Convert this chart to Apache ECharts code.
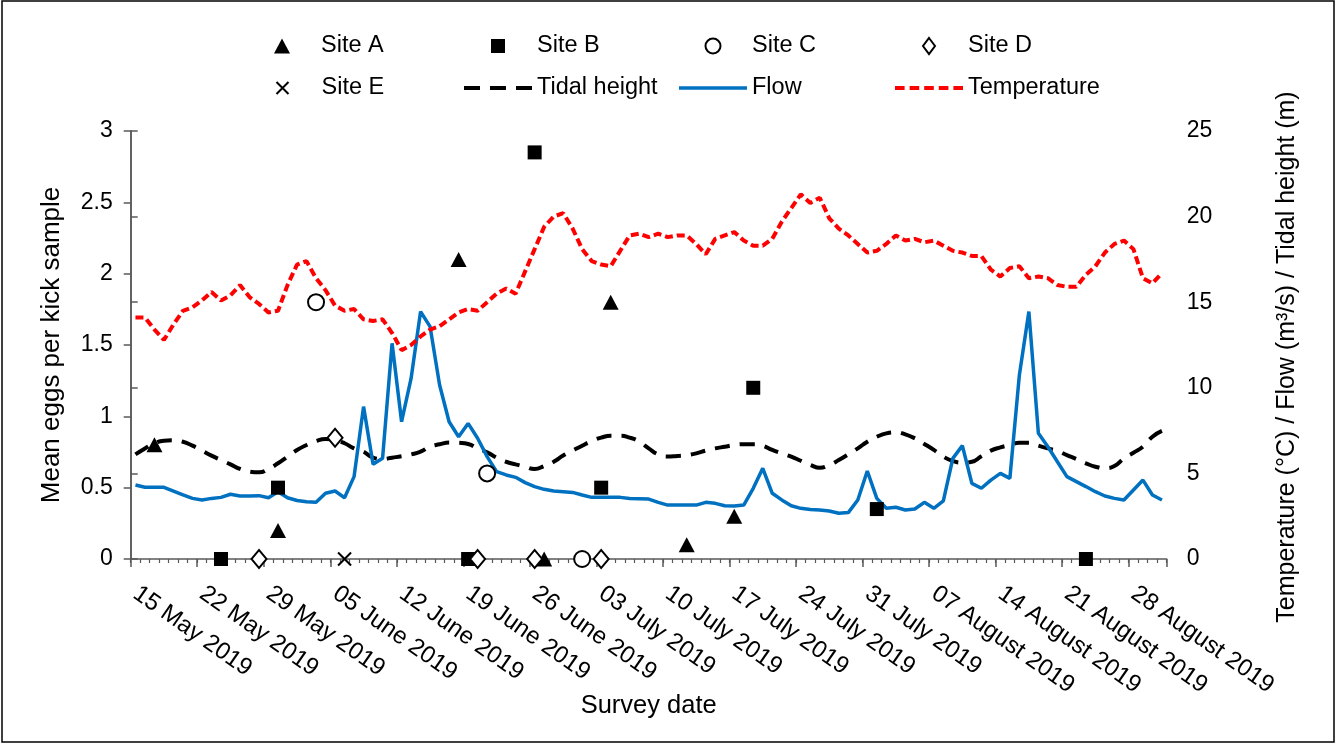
<!DOCTYPE html>
<html>
<head>
<meta charset="utf-8">
<script src="https://cdn.jsdelivr.net/npm/echarts@6/dist/echarts.min.js"></script>
<style>
html,body{margin:0;padding:0;background:#fff;}
#chart{width:1338px;height:745px;}
</style>
</head>
<body>
<div id="chart"></div>
<script>
// ---- data (x = day index from 15 May 2019, one value per day) ----
const tickLabels = ['15 May 2019','22 May 2019','29 May 2019','05 June 2019','12 June 2019','19 June 2019','26 June 2019','03 July 2019','10 July 2019','17 July 2019','24 July 2019','31 July 2019','07 August 2019','14 August 2019','21 August 2019','28 August 2019'];

const temperature = [14.1,14.1,13.4,12.8,13.7,14.5,14.7,15.1,15.6,15.1,15.4,16.0,15.3,14.9,14.4,14.5,16.0,17.2,17.4,16.4,
15.7,14.8,14.5,14.6,14.0,13.9,14.0,13.2,12.2,12.5,13.0,13.4,13.6,14.0,14.4,14.6,14.5,15.0,15.5,15.8,
15.5,16.8,18.1,19.4,20.0,20.2,19.3,18.1,17.4,17.2,17.1,18.0,18.9,19.0,18.8,19.0,18.8,18.9,18.9,18.4,
17.8,18.7,18.9,19.1,18.6,18.3,18.3,18.7,19.7,20.5,21.3,20.8,21.1,19.9,19.3,18.9,18.4,17.9,18.0,18.4,
18.9,18.6,18.7,18.5,18.6,18.3,18.0,17.9,17.7,17.7,16.9,16.5,17.0,17.1,16.4,16.5,16.4,16.0,15.9,15.9,
16.6,17.1,17.9,18.4,18.6,18.1,16.4,16.1,16.7];

const flow = [4.32,4.19,4.19,4.19,3.97,3.74,3.54,3.45,3.54,3.60,3.78,3.68,3.68,3.70,3.58,3.93,3.58,3.42,3.35,3.31,
3.84,3.97,3.58,4.81,8.90,5.53,5.88,12.6,8.02,10.55,14.45,13.57,10.16,8.02,7.14,7.92,7.05,5.98,5.10,4.91,
4.77,4.46,4.23,4.07,3.97,3.93,3.89,3.74,3.60,3.60,3.60,3.60,3.54,3.52,3.50,3.31,3.15,3.15,3.15,3.15,
3.31,3.25,3.11,3.09,3.15,4.13,5.30,3.84,3.45,3.11,2.96,2.89,2.86,2.80,2.67,2.71,3.45,5.14,3.54,2.96,
3.02,2.86,2.92,3.31,2.96,3.39,5.88,6.62,4.42,4.13,4.61,5.00,4.71,10.75,14.45,7.34,6.56,5.68,4.81,4.52,
4.23,3.93,3.68,3.54,3.45,4.03,4.61,3.74,3.45];

const tidalHeight = [6.11,6.46,6.76,6.91,6.93,6.85,6.62,6.33,6.04,5.78,5.53,5.26,5.10,5.06,5.26,5.59,5.98,6.37,6.66,6.89,
7.01,6.95,6.76,6.46,6.27,5.92,5.84,5.92,6.00,6.11,6.27,6.56,6.70,6.81,6.79,6.72,6.46,6.23,5.92,5.68,
5.53,5.39,5.26,5.43,5.68,6.04,6.33,6.62,6.89,7.09,7.20,7.20,7.09,6.86,6.46,6.11,5.98,6.02,6.07,6.17,
6.33,6.46,6.56,6.66,6.70,6.70,6.62,6.37,6.17,5.98,5.74,5.50,5.33,5.49,5.78,6.11,6.46,6.85,7.14,7.34,
7.40,7.28,7.05,6.72,6.37,5.98,5.72,5.63,5.68,6.00,6.33,6.52,6.66,6.79,6.79,6.62,6.46,6.31,6.07,5.84,
5.59,5.39,5.30,5.43,5.88,6.21,6.56,7.14,7.48];

// survey points: [day index, mean eggs per kick sample]
const siteA = [[2,0.8],[15,0.2],[34,2.1],[43,0],[50,1.8],[58,0.1],[63,0.3]];
const siteB = [[9,0],[15,0.5],[35,0],[42,2.85],[49,0.5],[65,1.2],[78,0.35],[100,0]];
const siteC = [[19,1.8],[37,0.6],[47,0]];
const siteD = [[13,0],[21,0.85],[36,0],[42,0],[49,0]];
const siteE = [[22,0]];

const F = '"Liberation Sans", Arial, sans-serif';
const AX = '#595959';
const daily = arr => arr.map((v, i) => [i + 0.5, v]);
const pts = arr => arr.map(p => [p[0] + 0.5, p[1]]);

const ICON = {
  tri: 'path://M8,0L16,15L0,15Z',
  sq: 'path://M0,0H14V14H0Z',
  circ: 'path://M7.5,0A7.5,7.5,0,1,1,7.5,15A7.5,7.5,0,1,1,7.5,0Z',
  dia: 'path://M6,0L12,8L6,16L0,8Z',
  x: 'path://M0,0L10,10M10,0L0,10',
  tide: 'path://M0,0H16V4H0Z M26,0H42V4H26Z M52,0H68V4H52Z',
  flow: 'path://M0,0H68V3.5H0Z',
  temp: 'path://M0,0H9.6V4H0Z M14.6,0H24.2V4H14.6Z M29.2,0H38.8V4H29.2Z M43.8,0H53.4V4H43.8Z M58.4,0H68V4H58.4Z'
};

const chart = echarts.init(document.getElementById('chart'), null, {renderer: 'canvas'});

function legendAt(name, icon, left, top, h) {
  return {
    data: [{name: name, icon: icon}], left: left, top: top, padding: 0, itemGap: 0,
    itemWidth: 68, itemHeight: h, selectedMode: false, symbolKeepAspect: true,
    textStyle: {fontSize: 23.5, color: '#000', fontFamily: F, lineHeight: 26}
  };
}

const option = {
  animation: false,
  textStyle: {fontFamily: F},
  graphic: [{type: 'rect', shape: {x: 2, y: 1, width: 1332, height: 741},
             style: {fill: 'none', stroke: '#000', lineWidth: 1.5}, silent: true}],
  legend: [
    legendAt('Site A', ICON.tri, 274, 33, 15),
    legendAt('Site B', ICON.sq, 491, 33, 14),
    legendAt('Site C', ICON.circ, 704.5, 33, 15),
    legendAt('Site D', ICON.dia, 922, 33, 16),
    legendAt('Site E', ICON.x, 274, 75, 12),
    legendAt('Tidal height', ICON.tide, 464, 75, 15),
    legendAt('Flow', ICON.flow, 679, 75, 15),
    legendAt('Temperature', ICON.temp, 895, 75, 15)
  ],
  grid: {left: 130.7, right: 171.3, top: 131, bottom: 186, containLabel: false, outerBoundsMode: 'none'},
  xAxis: [{
    type: 'value', min: 0, max: 109, interval: 7,
    axisLine: {show: true, onZero: false, lineStyle: {color: AX, width: 1.5}},
    axisTick: {show: true, length: 8, lineStyle: {color: AX, width: 1.5}},
    splitLine: {show: false},
    axisLabel: {rotate: -35, margin: 29, fontSize: 24, color: '#000', fontFamily: F, padding: [0, 0, 0, 6],
      formatter: v => (v % 7 === 0 && tickLabels[v / 7]) ? tickLabels[v / 7] : ''},
    name: 'Survey date', nameLocation: 'middle', nameGap: 134, nameMoveOverlap: false,
    nameTextStyle: {fontSize: 25.5, color: '#000', fontFamily: F}
  }, {
    type: 'value', min: 0, max: 109, interval: 1, position: 'bottom',
    axisLine: {show: false, onZero: false},
    axisTick: {show: true, length: 4, lineStyle: {color: AX, width: 1.2}},
    axisLabel: {show: false}, splitLine: {show: false}
  }],
  yAxis: [{
    type: 'value', min: 0, max: 3, interval: 0.5, position: 'left',
    axisLine: {show: true, lineStyle: {color: AX, width: 1.5}},
    axisTick: {show: true, length: 7, lineStyle: {color: AX, width: 1.5}},
    splitLine: {show: false},
    axisLabel: {margin: 18, fontSize: 23, color: '#000', fontFamily: F},
    name: 'Mean eggs per kick sample', nameLocation: 'middle', nameRotate: 90, nameGap: 66, nameMoveOverlap: false,
    nameTextStyle: {fontSize: 26, color: '#000', fontFamily: F}
  }, {
    type: 'value', min: 0, max: 25, interval: 5, position: 'right',
    axisLine: {show: true, lineStyle: {color: AX, width: 1.5}},
    axisTick: {show: true, length: 7, lineStyle: {color: AX, width: 1.5}},
    splitLine: {show: false},
    axisLabel: {margin: 20, fontSize: 23, color: '#000', fontFamily: F},
    name: 'Temperature (\u00B0C) / Flow (m\u00B3/s) / Tidal height (m)', nameLocation: 'middle', nameRotate: 90, nameGap: 108, nameMoveOverlap: false,
    nameTextStyle: {fontSize: 25, color: '#000', fontFamily: F, padding: [0, 24, 0, 0]}
  }],
  series: [
    {name: 'Tidal height', type: 'line', yAxisIndex: 1, data: daily(tidalHeight), smooth: true, symbol: 'none',
     lineStyle: {color: '#000', width: 4, type: [15, 10]}, itemStyle: {color: '#000'}, z: 2, silent: true},
    {name: 'Flow', type: 'line', yAxisIndex: 1, data: daily(flow), symbol: 'none',
     lineStyle: {color: '#0070C0', width: 3.5}, itemStyle: {color: '#0070C0'}, z: 3, silent: true},
    {name: 'Temperature', type: 'line', yAxisIndex: 1, data: daily(temperature), symbol: 'none',
     lineStyle: {color: '#FF0000', width: 4, type: [8, 4]}, itemStyle: {color: '#FF0000'}, z: 3, silent: true},
    {name: 'Site A', type: 'scatter', data: pts(siteA), symbol: 'triangle', symbolSize: [16, 15],
     itemStyle: {color: '#000', opacity: 1}, z: 5, silent: true},
    {name: 'Site B', type: 'scatter', data: pts(siteB), symbol: 'rect', symbolSize: 14,
     itemStyle: {color: '#000', opacity: 1}, z: 5, silent: true},
    {name: 'Site C', type: 'scatter', data: pts(siteC), symbol: 'circle', symbolSize: 16,
     itemStyle: {color: '#fff', borderColor: '#000', borderWidth: 2, opacity: 1}, z: 5, silent: true},
    {name: 'Site D', type: 'scatter', data: pts(siteD), symbol: 'diamond', symbolSize: [15, 18],
     itemStyle: {color: '#fff', borderColor: '#000', borderWidth: 2, opacity: 1}, z: 5, silent: true},
    {name: 'Site E', type: 'scatter', data: pts(siteE), symbol: 'path://M0,0L10,10M10,0L0,10', symbolSize: 13,
     itemStyle: {color: 'none', borderColor: '#000', borderWidth: 2, opacity: 1}, z: 5, silent: true}
  ]
};
chart.setOption(option);
</script>
</body>
</html>
